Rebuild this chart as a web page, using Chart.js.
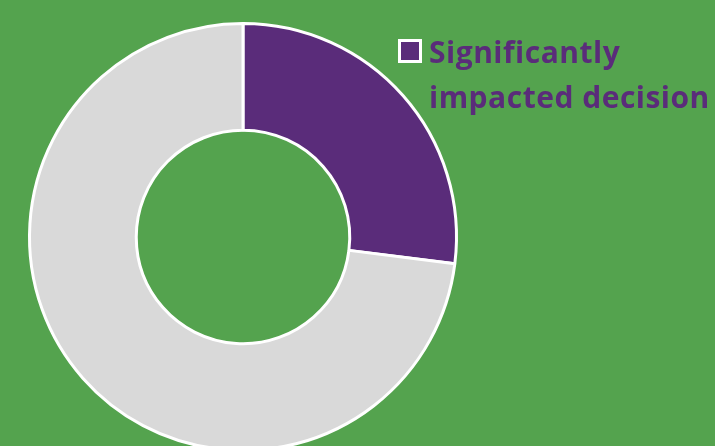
<!DOCTYPE html>
<html>
<head>
<meta charset="utf-8">
<script src="https://cdn.jsdelivr.net/npm/chart.js@4"></script>
<style>
  html, body { margin: 0; padding: 0; width: 715px; height: 446px; overflow: hidden; background: #54a34e; }
  #wrap { position: relative; width: 715px; height: 446px; }
  #legend { position: absolute; left: 398px; top: 29px; font-family: "Open Sans", Lato, sans-serif; font-weight: bold; font-size: 30px; letter-spacing: 0.5px; line-height: 45px; color: #5a2c7a; }
  #legend .box { position: absolute; left: 0; top: 10px; width: 18px; height: 18px; background: #5a2c7a; border: 3px solid #fff; }
  #legend .txt { margin-left: 31px; white-space: nowrap; }
</style>
</head>
<body>
<div id="wrap">
  <canvas id="donut" width="715" height="470"></canvas>
  <div id="legend"><span class="box"></span><div class="txt">Significantly<br>impacted decision</div></div>
</div>
<script>
const categories = ["Significantly impacted decision", "Other"];
const values = [27, 73];
const colors = ["#5a2c7a", "#d9d9d9"];

const ctx = document.getElementById("donut").getContext("2d");
const myChart = new Chart(ctx, {
  type: "doughnut",
  data: {
    labels: categories,
    datasets: [
      {
        data: values,
        backgroundColor: colors,
        borderColor: "#ffffff",
        borderWidth: 3,
      },
    ],
  },
  options: {
    responsive: false,
    animation: false,
    cutout: "50%",
    layout: { padding: { left: 27, top: 22, right: 256, bottom: 18 } },
    plugins: {
      legend: { display: false },
      tooltip: { enabled: false },
    },
  },
});
</script>
</body>
</html>
